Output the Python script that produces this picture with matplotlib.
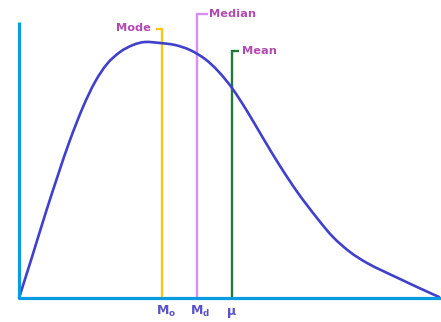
import matplotlib
matplotlib.use("Agg")
import matplotlib.pyplot as plt
from matplotlib.path import Path
from matplotlib.patches import PathPatch

# Curve (x position, height above the baseline)
curve_x = [19, 32, 45, 58, 70, 83, 95, 107, 120, 133, 145, 160, 175, 190, 205,
           218, 232, 247, 263, 280, 298, 317, 333, 350, 367, 383, 400, 417, 439]
curve_h = [0, 41, 83, 123, 158, 191, 216, 234, 246, 253, 256, 255, 253, 248, 239,
           227, 210, 187, 160, 132, 105, 80, 61, 46, 35, 27, 19, 11, 1]

# Marker lines: position, top height
stat_names = ["Mode", "Median", "Mean"]
stat_x = [162, 197, 232]
stat_top = [269, 284, 247]
stat_symbols = [r"$\mathbf{M_o}$", r"$\mathbf{M_d}$", "μ"]
stat_colors = ["#ffc419", "#dc8cf5", "#1f7a3a"]

plt.rcParams["mathtext.fontset"] = "dejavusans"
fig = plt.figure(figsize=(4.41, 3.22), dpi=100)
ax = fig.add_axes([0, 0, 1, 1])
ax.set_xlim(0, 441)
ax.set_ylim(-24, 298)
ax.axis("off")

axis_color = "#0a9be2"
label_color = "#b04cb0"
sym_color = "#5a52c8"

# smooth curve drawn as Bezier path through the read points
pts = list(zip(curve_x, curve_h))
verts = [pts[0]]
codes = [Path.MOVETO]
for i in range(len(pts) - 1):
    p0 = pts[i - 1] if i > 0 else pts[i]
    p1 = pts[i]
    p2 = pts[i + 1]
    p3 = pts[i + 2] if i + 2 < len(pts) else pts[i + 1]
    c1 = (p1[0] + (p2[0] - p0[0]) / 6, p1[1] + (p2[1] - p0[1]) / 6)
    c2 = (p2[0] - (p3[0] - p1[0]) / 6, p2[1] - (p3[1] - p1[1]) / 6)
    verts += [c1, c2, p2]
    codes += [Path.CURVE4] * 3
ax.add_patch(PathPatch(Path(verts, codes), fill=False, edgecolor="#4040cc",
                       lw=1.9, capstyle="round", zorder=3))

# stat lines with hooks
hooks = [-6, 11, 7]
for x, top, c, hk in zip(stat_x, stat_top, stat_colors, hooks):
    ax.plot([x, x, x + hk], [0, top, top], color=c, lw=1.7, zorder=2,
            solid_joinstyle="miter", solid_capstyle="butt")

# labels
ax.text(151, 270, stat_names[0], color=label_color, fontsize=8.2,
        fontweight="bold", ha="right", va="center")
ax.text(209, 284, stat_names[1], color=label_color, fontsize=8.2,
        fontweight="bold", ha="left", va="center")
ax.text(242, 247, stat_names[2], color=label_color, fontsize=8.2,
        fontweight="bold", ha="left", va="center")

sym_pos = [166, 200, 232]
for x, s in zip(sym_pos, stat_symbols):
    ax.text(x, -13, s, color=sym_color, fontsize=9, fontweight="bold",
            ha="center", va="center")

# axes lines
ax.plot([19, 19], [0, 276], color=axis_color, lw=2.3, solid_capstyle="butt", zorder=4)
ax.plot([17.5, 441], [0, 0], color=axis_color, lw=2.3, solid_capstyle="butt", zorder=4)

fig.savefig("out.png", dpi=100)
